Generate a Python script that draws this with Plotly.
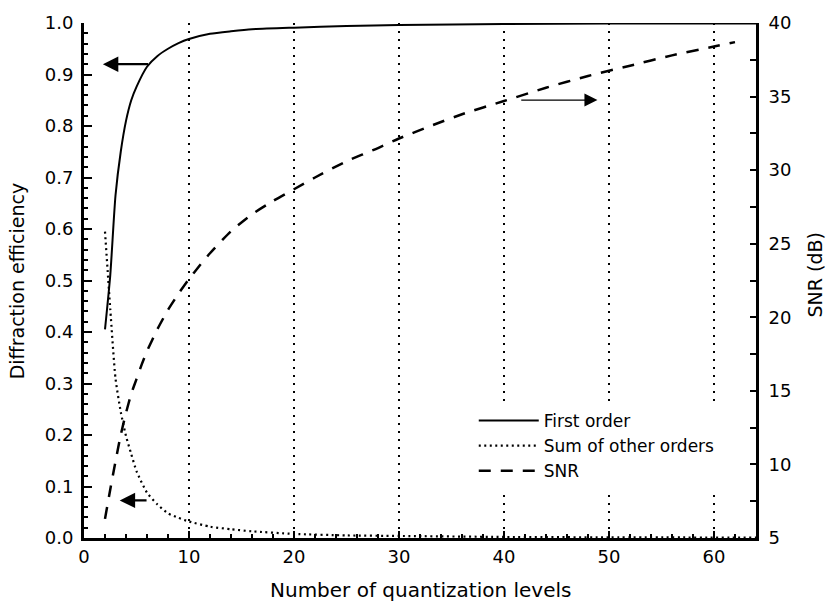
import plotly.graph_objects as go

# Diffraction efficiency vs. number of quantization levels
levels_eff = [2, 2.5, 3, 3.5, 4, 4.5, 5, 6, 7, 8, 9, 10, 12, 14, 16, 20, 25, 30, 40, 50, 64]
first_order = [0.405, 0.51, 0.665, 0.75, 0.81, 0.85, 0.876, 0.915, 0.936, 0.95, 0.961, 0.969,
               0.979, 0.984, 0.988, 0.991, 0.994, 0.996, 0.998, 0.999, 0.999]
other_orders = [0.595, 0.445, 0.31, 0.245, 0.198, 0.163, 0.13, 0.088, 0.065, 0.048, 0.039, 0.032,
                0.022, 0.017, 0.013, 0.008, 0.005, 0.004, 0.002, 0.0013, 0.0008]

# Signal-to-noise ratio (dB)
levels_snr = [2, 2.5, 3, 3.5, 4, 4.5, 5, 5.5, 6, 7, 8, 9, 10, 11, 12, 14, 16, 18, 20, 22, 25,
              28, 30, 33, 36, 40, 44, 48, 52, 56, 60, 62]
snr_db = [6.3, 8.3, 10.2, 12.0, 13.5, 14.8, 15.8, 16.8, 17.7, 19.2, 20.5, 21.6, 22.6, 23.5, 24.35,
          25.85, 27.0, 27.9, 28.7, 29.5, 30.6, 31.5, 32.15, 33.0, 33.8, 34.7, 35.6, 36.4, 37.1,
          37.8, 38.4, 38.7]

x_ticks = [0, 10, 20, 30, 40, 50, 60]
left_ticks = [0.0, 0.1, 0.2, 0.3, 0.4, 0.5, 0.6, 0.7, 0.8, 0.9, 1.0]
right_ticks = [5, 10, 15, 20, 25, 30, 35, 40]

FONT = "DejaVu Sans"
INK = "black"

fig = go.Figure()
fig.add_trace(go.Scatter(x=levels_eff, y=first_order, mode="lines", name="First order",
                         line=dict(color=INK, width=2, shape="spline", smoothing=0.6)))
fig.add_trace(go.Scatter(x=levels_eff, y=other_orders, mode="lines", name="Sum of other orders",
                         line=dict(color=INK, width=2.2, dash="2px,3.5px", shape="spline", smoothing=0.6)))
fig.add_trace(go.Scatter(x=levels_snr, y=snr_db, mode="lines", name="SNR", yaxis="y2",
                         line=dict(color=INK, width=2.5, dash="12px,10px", shape="spline", smoothing=0.6)))

axis_common = dict(showline=True, linecolor=INK, linewidth=3, ticks="inside", tickcolor=INK,
                   tickfont=dict(family=FONT, size=18, color=INK), zeroline=False, mirror=False)

fig.update_layout(
    width=828, height=603,
    margin=dict(l=84, r=72, t=17, b=65),
    plot_bgcolor="white", paper_bgcolor="white",
    font=dict(family=FONT, color=INK),
    xaxis=dict(range=[0, 64], tickvals=x_ticks, ticklen=7, tickwidth=2,
               showgrid=True, gridcolor=INK, gridwidth=1.6, griddash="1.6px,6.4px",
               minor=dict(dtick=2, ticklen=4, tickwidth=2, ticks="inside", tickcolor=INK, showgrid=False),
               **axis_common),
    yaxis=dict(range=[0, 1], tickvals=left_ticks, tickformat=".1f", ticklen=8, tickwidth=2,
               showgrid=False, ticklabelstandoff=4,
               minor=dict(dtick=0.02, ticklen=4, tickwidth=2, ticks="inside", tickcolor=INK),
               **axis_common),
    yaxis2=dict(range=[5, 40], tickvals=right_ticks, overlaying="y", side="right", ticklen=6,
                tickwidth=2, showgrid=False, ticklabelstandoff=6,
                minor=dict(dtick=2.5, ticklen=6, tickwidth=2, ticks="inside", tickcolor=INK),
                **axis_common),
    legend=dict(x=0.58, y=0.262, xanchor="left", yanchor="top", bgcolor="white",
                borderwidth=0, font=dict(family=FONT, size=17, color=INK),
                itemwidth=60, tracegroupgap=0),
    showlegend=True,
)

# axis titles
fig.add_annotation(text="Number of quantization levels", xref="paper", yref="paper",
                   x=0.5, y=-0.1, xanchor="center", yanchor="middle", showarrow=False,
                   font=dict(family=FONT, size=20, color=INK))
fig.add_annotation(text="Diffraction efficiency", xref="paper", yref="paper",
                   x=-0.1, y=0.5, textangle=-90, xanchor="center", yanchor="middle",
                   showarrow=False, font=dict(family=FONT, size=19, color=INK))
fig.add_annotation(text="SNR (dB)", xref="paper", yref="paper",
                   x=1.088, y=0.51, textangle=-90, xanchor="center", yanchor="middle",
                   showarrow=False, font=dict(family=FONT, size=19, color=INK))

# arrows pointing each curve to its axis
fig.add_annotation(x=1.8, y=0.92, ax=6.24, ay=0.92, xref="x", yref="y", axref="x", ayref="y",
                   text="", showarrow=True, arrowhead=2, arrowsize=1.4, arrowwidth=2.2,
                   arrowcolor=INK, standoff=0, startstandoff=0)
fig.add_annotation(x=3.4, y=0.073, ax=6.1, ay=0.073, xref="x", yref="y", axref="x", ayref="y",
                   text="", showarrow=True, arrowhead=2, arrowsize=1.4, arrowwidth=2.2,
                   arrowcolor=INK, standoff=0, startstandoff=0)
fig.add_annotation(x=48.9, y=34.76, ax=41.5, ay=34.76, xref="x", yref="y2", axref="x", ayref="y2",
                   text="", showarrow=True, arrowhead=2, arrowsize=2, arrowwidth=1.3,
                   arrowcolor=INK, standoff=0, startstandoff=0)

fig.write_html("out.html")
